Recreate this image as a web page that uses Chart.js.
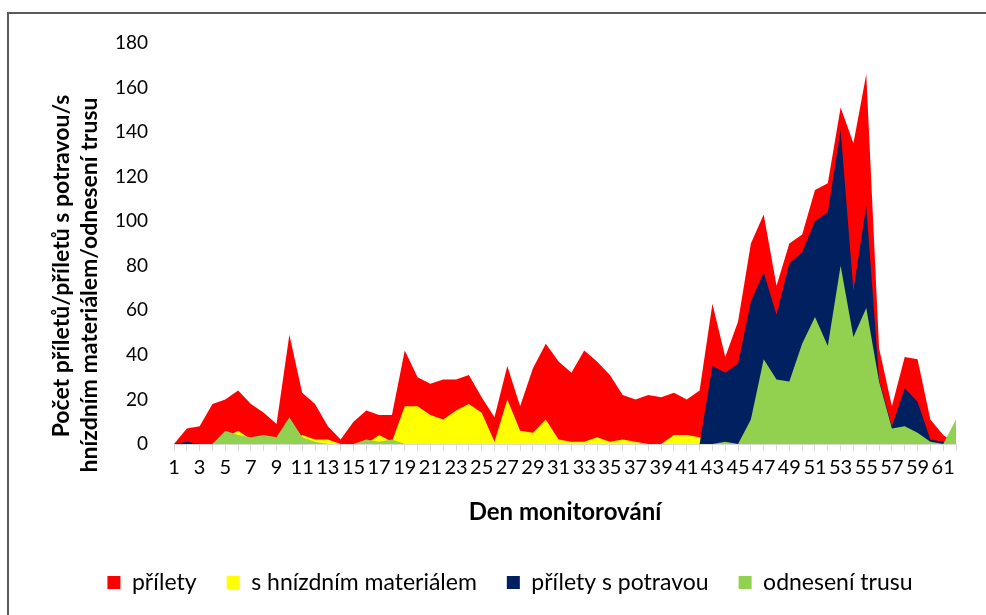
<!DOCTYPE html>
<html>
<head>
<meta charset="utf-8">
<script src="https://cdn.jsdelivr.net/npm/chart.js@4.4.1/dist/chart.umd.min.js"></script>
<style>
  html, body { margin: 0; padding: 0; background: #fff; overflow: hidden; }
  #wrap { position: relative; width: 986px; height: 615px; }
  #c { position: absolute; left: 0; top: 0; }
  #frame {
    position: absolute; left: 7px; top: 12px; width: 1000px; height: 700px;
    border-left: 2px solid #5a5a5a; border-top: 2px solid #5a5a5a;
    pointer-events: none;
  }
</style>
</head>
<body>
<div id="wrap">
  <canvas id="c" width="986" height="615"></canvas>
  <div id="frame"></div>
</div>
<script>
// Den monitorování (days 1–62)
const days = ['1','2','3','4','5','6','7','8','9','10','11','12','13','14','15','16','17','18','19','20',
  '21','22','23','24','25','26','27','28','29','30','31','32','33','34','35','36','37','38','39','40',
  '41','42','43','44','45','46','47','48','49','50','51','52','53','54','55','56','57','58','59','60',
  '61','62'];

// přílety
const prilety = [0,7,8,18,20,24,18,14,9,49,23,18,8,2,10,15,13,13,42,30,
  27,29,29,31,21,12,35,17,34,45,37,32,42,37,31,22,20,22,21,23,
  20,24,63,39,55,90,103,71,90,94,114,117,151,135,166,43,17,39,38,11,
  4,0];

// s hnízdním materiálem
const material = [0,0,0,0,3,6,2,0,0,0,4,2,2,0,0,0,4,1,17,17,
  13,11,15,18,14,1,20,6,5,11,2,1,1,3,1,2,1,0,0,4,
  4,3,0,0,0,0,0,0,0,0,0,0,0,0,0,0,0,0,0,0,
  0,0];

// přílety s potravou
const potrava = [0,1,0,0,0,0,0,0,0,0,0,0,0,0,0,0,0,0,0,0,
  0,0,0,0,0,0,0,0,0,0,0,0,0,0,0,0,0,0,0,0,
  0,0,35,32,36,64,77,58,81,86,100,104,141,69,107,29,8,25,19,2,
  1,0];

// odnesení trusu
const trus = [0,0,0,0,6,4,3,4,3,12,3,1,0,0,0,2,1,2,0,0,
  0,0,0,0,0,0,0,0,0,0,0,0,0,0,0,0,0,0,0,0,
  0,0,0,1,0,11,38,29,28,45,57,44,80,48,61,28,7,8,5,1,
  0,11];

const yTicks = { min: 0, max: 180, step: 20 };
const seriesNames = ['přílety', 's hnízdním materiálem', 'přílety s potravou', 'odnesení trusu'];
const seriesColors = ['#FF0000', '#FFFF00', '#002060', '#92D050'];
const yTitleLines = ['Počet příletů/příletů s potravou/s', 'hnízdním materiálem/odnesení trusu'];
const xTitle = 'Den monitorování';

Chart.defaults.font.family = 'Lato, "Open Sans", sans-serif';
Chart.defaults.color = '#000';

// Rotated two-line value-axis title
const yTitlePlugin = {
  id: 'yTitle',
  afterDraw(chart) {
    const ctx = chart.ctx;
    const lineX = [62, 90];
    const lineY = [266, 285];
    ctx.save();
    ctx.font = 'bold 23px Lato, sans-serif';
    ctx.fillStyle = '#000';
    ctx.textAlign = 'center';
    ctx.textBaseline = 'middle';
    yTitleLines.forEach((t, i) => {
      ctx.save();
      ctx.translate(lineX[i], lineY[i]);
      ctx.rotate(-Math.PI / 2);
      ctx.fillText(t, 0, 0);
      ctx.restore();
    });
    ctx.restore();
  }
};

const values = [prilety, material, potrava, trus];
const datasets = values.map((v, i) => ({
  label: seriesNames[i],
  data: v,
  backgroundColor: seriesColors[i],
  borderColor: seriesColors[i],
  borderWidth: 0,
  pointRadius: 0,
  tension: 0,
  fill: 'origin',
  order: values.length - i
}));

new Chart(document.getElementById('c'), {
  type: 'line',
  data: { labels: days, datasets },
  plugins: [yTitlePlugin],
  options: {
    responsive: false,
    animation: false,
    devicePixelRatio: 1,
    layout: { padding: { left: 64, right: 30, top: 43, bottom: 11 } },
    plugins: {
      tooltip: { enabled: false },
      legend: {
        position: 'bottom',
        labels: {
          boxWidth: 13, boxHeight: 13, padding: 30,
          font: { size: 23 }, color: '#000',
          sort: (a, b) => a.datasetIndex - b.datasetIndex
        }
      }
    },
    scales: {
      x: {
        offset: false,
        grid: { display: true, drawOnChartArea: false, drawTicks: true, tickLength: 7, color: '#D9D9D9' },
        border: { display: true, color: '#D9D9D9' },
        ticks: {
          autoSkip: false, maxRotation: 0, minRotation: 0, padding: 5,
          font: { size: 20 }, color: '#000',
          callback: function (v, i) { return i % 2 === 0 ? this.getLabelForValue(v) : ''; }
        },
        title: { display: true, text: xTitle, font: { size: 24, weight: 'bold' }, color: '#000', padding: { top: 0, bottom: 14 } },
        afterFit: s => { s.height = 97; }
      },
      y: {
        min: yTicks.min, max: yTicks.max,
        ticks: { stepSize: yTicks.step, padding: 26, font: { size: 19 }, color: '#000' },
        grid: { display: false, drawTicks: false },
        border: { display: false },
        afterFit: s => { s.width = 110; }
      }
    }
  }
});
</script>
</body>
</html>
